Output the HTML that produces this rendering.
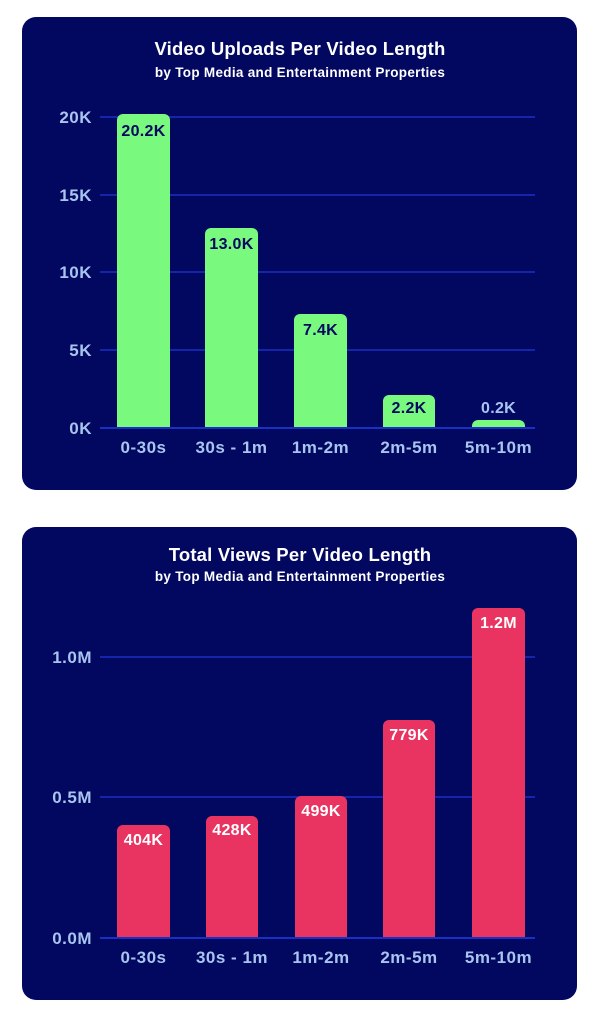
<!DOCTYPE html>
<html><head><meta charset="utf-8"><style>
html,body{margin:0;padding:0;background:#fff;width:600px;height:1024px;overflow:hidden}
svg{display:block}
text{font-family:"Liberation Sans",sans-serif;font-weight:bold}
</style></head><body>
<svg width="600" height="1024" viewBox="0 0 600 1024">
<!-- Card 1 -->
<rect x="22" y="17" width="555" height="473" rx="14" fill="#020860"/>
<text x="300" y="55" text-anchor="middle" fill="#fff" font-size="18.5" letter-spacing="0.2">Video Uploads Per Video Length</text>
<text x="300" y="77" text-anchor="middle" fill="#fff" font-size="13.5" letter-spacing="0.3">by Top Media and Entertainment Properties</text>
<g stroke="#1a2fc4" stroke-width="1.5">
<line x1="100" y1="117" x2="535" y2="117"/>
<line x1="100" y1="195" x2="535" y2="195"/>
<line x1="100" y1="272" x2="535" y2="272"/>
<line x1="100" y1="350" x2="535" y2="350"/>
</g>
<g fill="#a9c4ef" font-size="17" text-anchor="end" letter-spacing="0.5">
<text x="92" y="123">20K</text>
<text x="92" y="201">15K</text>
<text x="92" y="278">10K</text>
<text x="92" y="356">5K</text>
<text x="92" y="434">0K</text>
</g>
<g fill="#7af97f">
<path d="M117 428V120a6 6 0 0 1 6-6h41a6 6 0 0 1 6 6V428z"/>
<path d="M205 428V234a6 6 0 0 1 6-6h41a6 6 0 0 1 6 6V428z"/>
<path d="M294 428V320a6 6 0 0 1 6-6h41a6 6 0 0 1 6 6V428z"/>
<path d="M383 428V401a6 6 0 0 1 6-6h40a6 6 0 0 1 6 6V428z"/>
<path d="M472 428V426a6 6 0 0 1 6-6h41a6 6 0 0 1 6 6V428z"/>
</g>
<line x1="100" y1="428" x2="535" y2="428" stroke="#1a2fc4" stroke-width="2"/>
<g fill="#020860" font-size="16" text-anchor="middle" letter-spacing="0.3">
<text x="143.5" y="136">20.2K</text>
<text x="231.5" y="249">13.0K</text>
<text x="320.5" y="335">7.4K</text>
<text x="409" y="413">2.2K</text>
</g>
<text x="498.5" y="413" fill="#a9c4ef" font-size="16" text-anchor="middle" letter-spacing="0.3">0.2K</text>
<g fill="#a9c4ef" font-size="17" text-anchor="middle" letter-spacing="0.5">
<text x="143.5" y="453">0-30s</text>
<text x="231.5" y="453">30s - 1m</text>
<text x="320.5" y="453">1m-2m</text>
<text x="409" y="453">2m-5m</text>
<text x="498.5" y="453">5m-10m</text>
</g>
<!-- Card 2 -->
<rect x="22" y="527" width="555" height="473" rx="14" fill="#020860"/>
<text x="300" y="561" text-anchor="middle" fill="#fff" font-size="18.5" letter-spacing="0.2">Total Views Per Video Length</text>
<text x="300" y="581" text-anchor="middle" fill="#fff" font-size="13.5" letter-spacing="0.3">by Top Media and Entertainment Properties</text>
<g stroke="#1a2fc4" stroke-width="1.5">
<line x1="100" y1="657" x2="535" y2="657"/>
<line x1="100" y1="797" x2="535" y2="797"/>
</g>
<g fill="#a9c4ef" font-size="17" text-anchor="end" letter-spacing="0.5">
<text x="92" y="663">1.0M</text>
<text x="92" y="803">0.5M</text>
<text x="92" y="944">0.0M</text>
</g>
<g fill="#e93462">
<path d="M117 938V831a6 6 0 0 1 6-6h41a6 6 0 0 1 6 6V938z"/>
<path d="M206 938V822a6 6 0 0 1 6-6h40a6 6 0 0 1 6 6V938z"/>
<path d="M295 938V802a6 6 0 0 1 6-6h40a6 6 0 0 1 6 6V938z"/>
<path d="M383 938V726a6 6 0 0 1 6-6h40a6 6 0 0 1 6 6V938z"/>
<path d="M472 938V614a6 6 0 0 1 6-6h41a6 6 0 0 1 6 6V938z"/>
</g>
<line x1="100" y1="938" x2="535" y2="938" stroke="#1a2fc4" stroke-width="2"/>
<g fill="#fff" font-size="16" text-anchor="middle" letter-spacing="0.3">
<text x="143.5" y="845">404K</text>
<text x="232" y="835">428K</text>
<text x="321" y="816">499K</text>
<text x="409" y="740">779K</text>
<text x="498.5" y="628">1.2M</text>
</g>
<g fill="#a9c4ef" font-size="17" text-anchor="middle" letter-spacing="0.5">
<text x="143.5" y="963">0-30s</text>
<text x="232" y="963">30s - 1m</text>
<text x="321" y="963">1m-2m</text>
<text x="409" y="963">2m-5m</text>
<text x="498.5" y="963">5m-10m</text>
</g>
</svg>
</body></html>
